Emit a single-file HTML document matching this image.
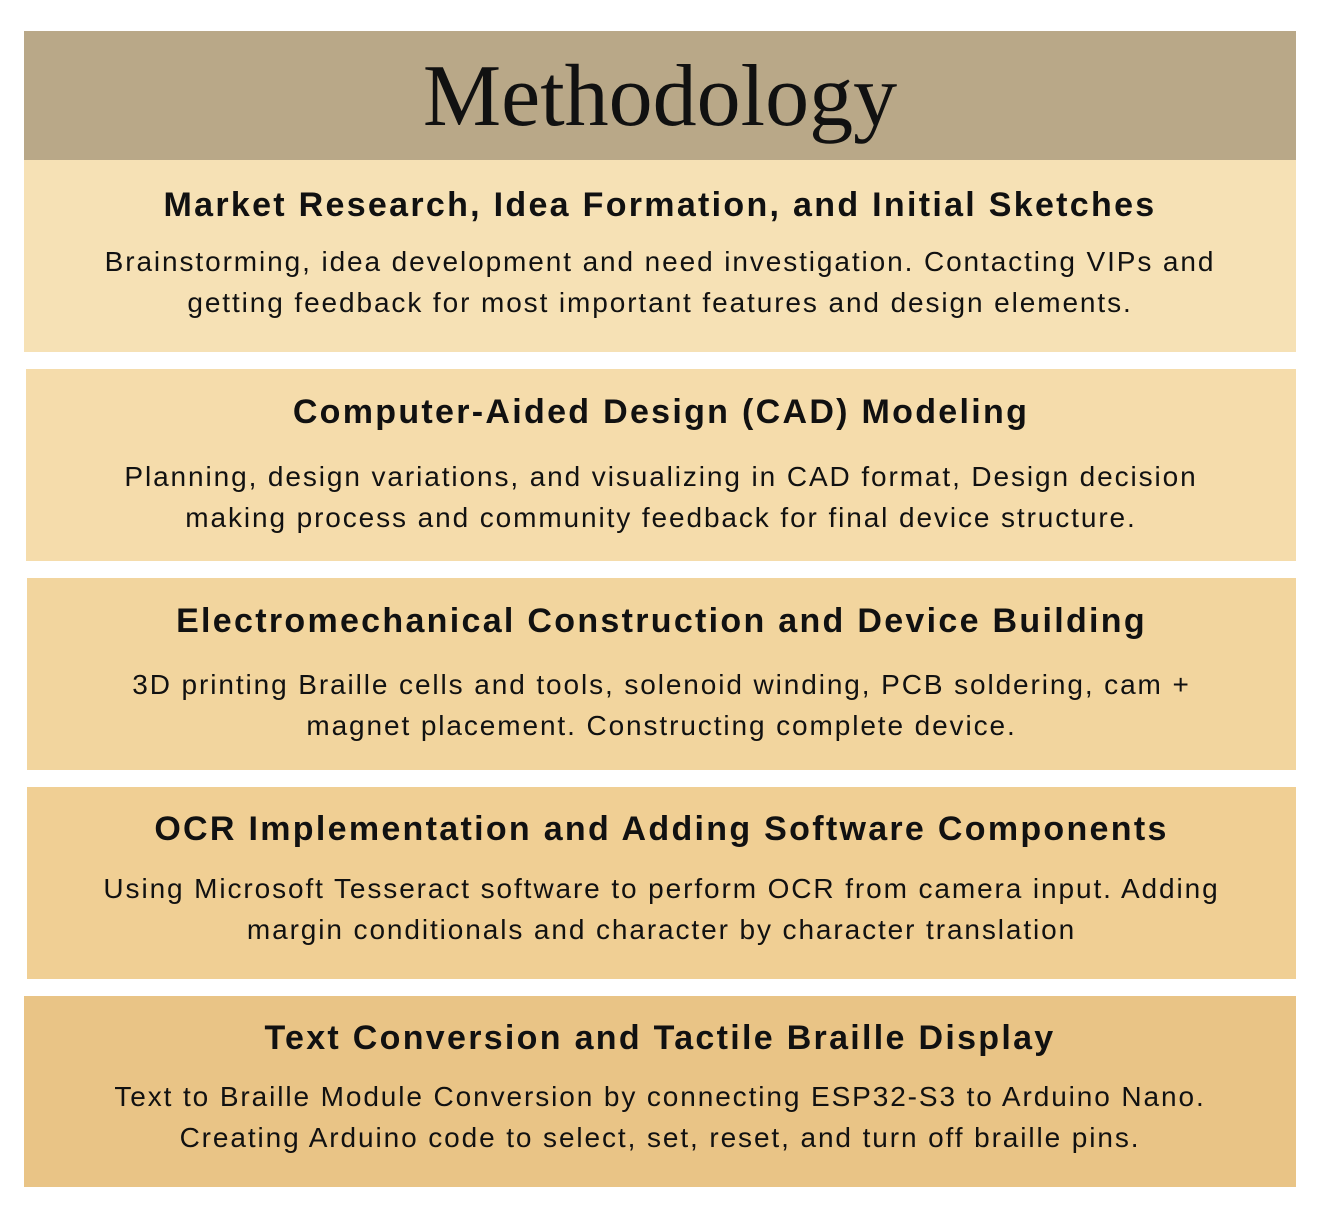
<!DOCTYPE html>
<html><head><meta charset="utf-8"><style>
body{margin:0;width:1327px;height:1217px;background:#fff;position:relative;font-family:"Liberation Sans",sans-serif;color:#111;}
.b{position:absolute;left:24px;width:1272px;text-align:center;}
.h{position:absolute;left:0;width:100%;font-weight:bold;font-size:34px;letter-spacing:2.3px;}
.p{position:absolute;left:0;width:100%;font-size:28px;line-height:41px;letter-spacing:1.9px;}
</style></head><body>
<div class="b" style="top:31px;height:129px;background:#b9a888;">
<div style="position:absolute;top:18px;width:100%;font-family:'Liberation Serif',serif;font-size:88px;line-height:96px;">Methodology</div></div>

<div class="b" style="top:160px;height:192px;background:#f6e1b5;">
<div class="h" style="top:26px;">Market Research, Idea Formation, and Initial Sketches</div>
<div class="p" style="top:81px;">Brainstorming, idea development and need investigation. Contacting VIPs and<br>getting feedback for most important features and design elements.</div></div>

<div class="b" style="top:369px;height:192px;left:26px;width:1270px;background:#f5dcab;">
<div class="h" style="top:24px;">Computer-Aided Design (CAD) Modeling</div>
<div class="p" style="top:87px;">Planning, design variations, and visualizing in CAD format, Design decision<br>making process and community feedback for final device structure.</div></div>

<div class="b" style="top:578px;height:192px;left:27px;width:1269px;background:#f2d59e;">
<div class="h" style="top:24px;">Electromechanical Construction and Device Building</div>
<div class="p" style="top:86px;">3D printing Braille cells and tools, solenoid winding, PCB soldering, cam +<br>magnet placement. Constructing complete device.</div></div>

<div class="b" style="top:787px;height:192px;left:27px;width:1269px;background:#f0cf94;">
<div class="h" style="top:23px;">OCR Implementation and Adding Software Components</div>
<div class="p" style="top:81px;">Using Microsoft Tesseract software to perform OCR from camera input. Adding<br>margin conditionals and character by character translation</div></div>

<div class="b" style="top:996px;height:191px;background:#e9c486;">
<div class="h" style="top:23px;">Text Conversion and Tactile Braille Display</div>
<div class="p" style="top:80px;">Text to Braille Module Conversion by connecting ESP32-S3 to Arduino Nano.<br>Creating Arduino code to select, set, reset, and turn off braille pins.</div></div>
</body></html>
